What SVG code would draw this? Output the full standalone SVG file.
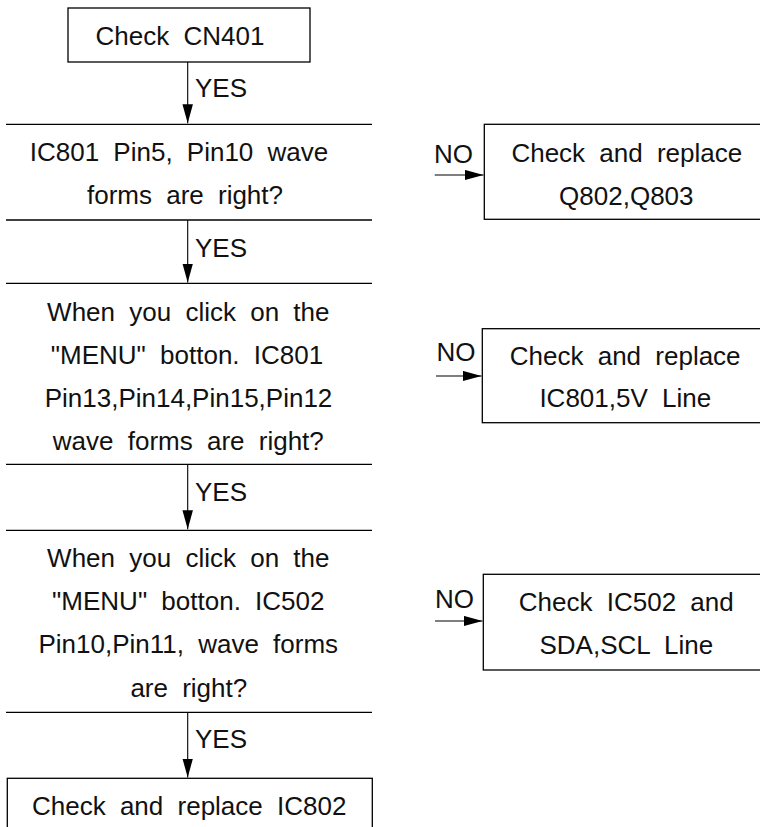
<svg xmlns="http://www.w3.org/2000/svg" width="760" height="827" viewBox="0 0 760 827">
<style>
  .bx { fill: none; stroke: #000; stroke-width: 1.3; }
  .ln { stroke: #000; stroke-width: 1.3; }
  .ar { stroke: #000; stroke-width: 1.1; fill: none; marker-end: url(#ah); }
  text { font-family: "Liberation Sans", Arial, sans-serif; font-size: 26px; fill: #111; word-spacing: 7px; }
  .c { text-anchor: middle; }
</style>
<defs>
  <marker id="ah" markerUnits="userSpaceOnUse" markerWidth="20" markerHeight="11" refX="19" refY="5.25" orient="auto">
    <path d="M0,0 L19,5.25 L0,10.5 z" fill="#000"/>
  </marker>
</defs>

<g id="start">
  <rect class="bx" x="68" y="8" width="242" height="54"/>
  <text class="c" x="180" y="45">Check CN401</text>
</g>

<g id="q1">
  <line class="ln" x1="6" y1="124.3" x2="372" y2="124.3"/>
  <line class="ln" x1="6" y1="220" x2="372" y2="220"/>
  <text class="c" x="179" y="160.7">IC801 Pin5, Pin10 wave</text>
  <text class="c" x="185" y="204">forms are right?</text>
</g>

<g id="q2">
  <line class="ln" x1="6" y1="283.3" x2="372" y2="283.3"/>
  <line class="ln" x1="6" y1="464.3" x2="372" y2="464.3"/>
  <text class="c" x="188.3" y="320.5">When you click on the</text>
  <text class="c" x="187" y="363.8">"MENU" botton. IC801</text>
  <text class="c" x="188.5" y="407.1">Pin13,Pin14,Pin15,Pin12</text>
  <text class="c" x="188.3" y="450.4">wave forms are right?</text>
</g>

<g id="q3">
  <line class="ln" x1="6" y1="530.3" x2="372" y2="530.3"/>
  <line class="ln" x1="6" y1="712.3" x2="372" y2="712.3"/>
  <text class="c" x="188.3" y="566.7">When you click on the</text>
  <text class="c" x="188.3" y="610">"MENU" botton. IC502</text>
  <text class="c" x="188.3" y="653.3">Pin10,Pin11, wave forms</text>
  <text class="c" x="188.8" y="696.7">are right?</text>
</g>

<g id="end">
  <rect class="bx" x="7.3" y="778.3" width="365" height="80"/>
  <text class="c" x="189.2" y="815">Check and replace IC802</text>
</g>

<g id="r1">
  <rect class="bx" x="484.3" y="124.3" width="320" height="95"/>
  <text class="c" x="626.8" y="162">Check and replace</text>
  <text class="c" x="626.3" y="205">Q802,Q803</text>
</g>

<g id="r2">
  <rect class="bx" x="482.3" y="328.7" width="320" height="94"/>
  <text class="c" x="625.2" y="365">Check and replace</text>
  <text class="c" x="625.3" y="407.3">IC801,5V Line</text>
</g>

<g id="r3">
  <rect class="bx" x="483.3" y="574.3" width="320" height="95.7"/>
  <text class="c" x="626.3" y="611">Check IC502 and</text>
  <text class="c" x="626.3" y="654.3">SDA,SCL Line</text>
</g>

<g id="connectors">
  <line class="ar" x1="187.7" y1="62" x2="187.7" y2="123.3"/>
  <text x="195" y="96.7">YES</text>
  <line class="ar" x1="187.7" y1="220" x2="187.7" y2="282.5"/>
  <text x="195" y="257.3">YES</text>
  <line class="ar" x1="187.7" y1="464.3" x2="187.7" y2="529.3"/>
  <text x="195" y="500.7">YES</text>
  <line class="ar" x1="187.7" y1="712.3" x2="187.7" y2="777.5"/>
  <text x="195" y="748.3">YES</text>

  <line class="ar" x1="434.7" y1="175" x2="483.5" y2="175"/>
  <text x="434" y="163.3">NO</text>
  <line class="ar" x1="436" y1="376" x2="481.5" y2="376"/>
  <text x="436.5" y="361">NO</text>
  <line class="ar" x1="435" y1="621" x2="482.5" y2="621"/>
  <text x="435" y="607.7">NO</text>
</g>
</svg>
